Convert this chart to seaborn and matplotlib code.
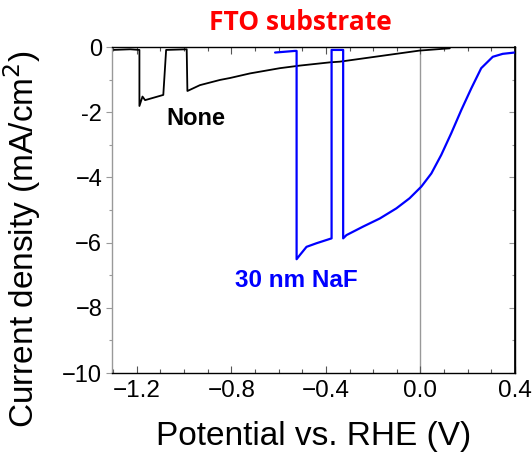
import matplotlib
matplotlib.use("Agg")
import matplotlib.pyplot as plt
import seaborn as sns
import pandas as pd
from matplotlib.ticker import MultipleLocator

# Data
none_x = [-1.303, -1.228, -1.189, -1.189, -1.176, -1.165, -1.088, -1.076, -0.989, -0.986,
          -0.933, -0.848, -0.805, -0.721, -0.595, -0.510, -0.382, -0.341, -0.004, 0.124]
none_y = [-0.09, -0.07, -0.09, -1.81, -1.52, -1.63, -1.47, -0.09, -0.07, -1.35,
          -1.17, -1.01, -0.95, -0.81, -0.65, -0.57, -0.47, -0.45, -0.11, -0.04]

naf_x = [-0.615, -0.531, -0.524, -0.524, -0.510, -0.482, -0.440, -0.376, -0.376, -0.327,
         -0.327, -0.313, -0.243, -0.172, -0.102, -0.046, 0.004, 0.046, 0.088, 0.130,
         0.173, 0.215, 0.257, 0.306, 0.348, 0.398]
naf_y = [-0.17, -0.12, -0.12, -6.51, -6.38, -6.13, -6.02, -5.87, -0.09, -0.09,
         -5.87, -5.77, -5.51, -5.26, -4.95, -4.64, -4.28, -3.88, -3.31, -2.65,
         -1.93, -1.27, -0.65, -0.30, -0.21, -0.17]

x_ticks = [-1.2, -0.8, -0.4, 0.0, 0.4]
x_labels = ["\u22121.2", "\u22120.8", "\u22120.4", "0.0", "0.4"]
y_ticks = [0, -2, -4, -6, -8, -10]
y_labels = ["0", "-2", "\u22124", "\u22126", "\u22128", "\u221210"]

sns.set_theme(style="white")
plt.rcParams['font.family'] = ['Liberation Sans', 'DejaVu Sans']
plt.rcParams['text.color'] = 'black'
plt.rcParams['axes.labelcolor'] = 'black'
plt.rcParams['xtick.color'] = 'black'
plt.rcParams['ytick.color'] = 'black'

df_none = pd.DataFrame({"x": none_x, "y": none_y})
df_naf = pd.DataFrame({"x": naf_x, "y": naf_y})

fig = plt.figure(figsize=(5.32, 4.54), dpi=100)
ax = fig.add_axes([112/532, 1-373/454, (515-112)/532, (373-47)/454])

ax.axvline(0.0, color="#999999", lw=1.0, zorder=0)
sns.lineplot(data=df_none, x="x", y="y", sort=False, estimator=None, color="black", lw=1.3, ax=ax)
sns.lineplot(data=df_naf, x="x", y="y", sort=False, estimator=None, color="#0000ff", lw=1.6, ax=ax)

ax.set_xlim(-1.305, 0.4)
ax.set_ylim(-10, 0)
ax.set_xticks(x_ticks)
ax.set_xticklabels(x_labels)
ax.set_yticks(y_ticks)
ax.set_yticklabels(y_labels)
ax.xaxis.set_minor_locator(MultipleLocator(0.1))
ax.yaxis.set_minor_locator(MultipleLocator(1))

for s in ["top", "right", "bottom"]:
    ax.spines[s].set_color("black")
    ax.spines[s].set_linewidth(1.0)
ax.spines["left"].set_color("#999999")
ax.spines["left"].set_linewidth(1.0)

ax.tick_params(axis="x", which="major", direction="in", top=True, bottom=True, length=5,
               width=0.8, color="#555555", labelsize=17.5, pad=5, labelcolor="black")
ax.tick_params(axis="x", which="minor", direction="in", top=True, bottom=True, length=3,
               width=0.8, color="#555555")
ax.tick_params(axis="y", which="major", direction="out", left=True, right=False, length=4,
               width=0.8, color="#999999", labelsize=17, pad=3, labelcolor="black")
ax.tick_params(axis="y", which="minor", direction="out", left=True, right=False, length=2,
               width=0.8, color="#999999")
ax2 = ax.secondary_yaxis("right")
ax2.set_yticks(y_ticks)
ax2.yaxis.set_minor_locator(MultipleLocator(1))
ax2.tick_params(axis="y", which="major", direction="in", length=4, width=0.8, color="#999999", labelright=False)
ax2.tick_params(axis="y", which="minor", direction="in", length=2, width=0.8, color="#999999", labelright=False)
ax2.spines["right"].set_color("black")

ax.set_xlabel("Potential vs. RHE (V)", fontsize=24, color="black")
ax.set_ylabel("Current density (mA/cm$^2$)", fontsize=24, color="black")
ax.xaxis.set_label_coords(0.5, -(437 - 373) / 326)
ax.xaxis.label.set_va("center")
ax.yaxis.set_label_coords((43 - 112) / 403, (373 - 239) / 326)

ax.text(-0.95, -2.2, "None", fontsize=17, fontweight="bold", color="black", ha="center", va="center")
ax.text(-0.527, -7.15, "30 nm NaF", fontsize=17.5, fontweight="bold", color="#0000ff", ha="center", va="center")
fig.text(300/532, 1-22/454, "FTO substrate", fontsize=19, fontweight="bold", color="red",
         ha="center", va="center", family=["Open Sans", "DejaVu Sans"])

fig.savefig("out.png", dpi=100)
